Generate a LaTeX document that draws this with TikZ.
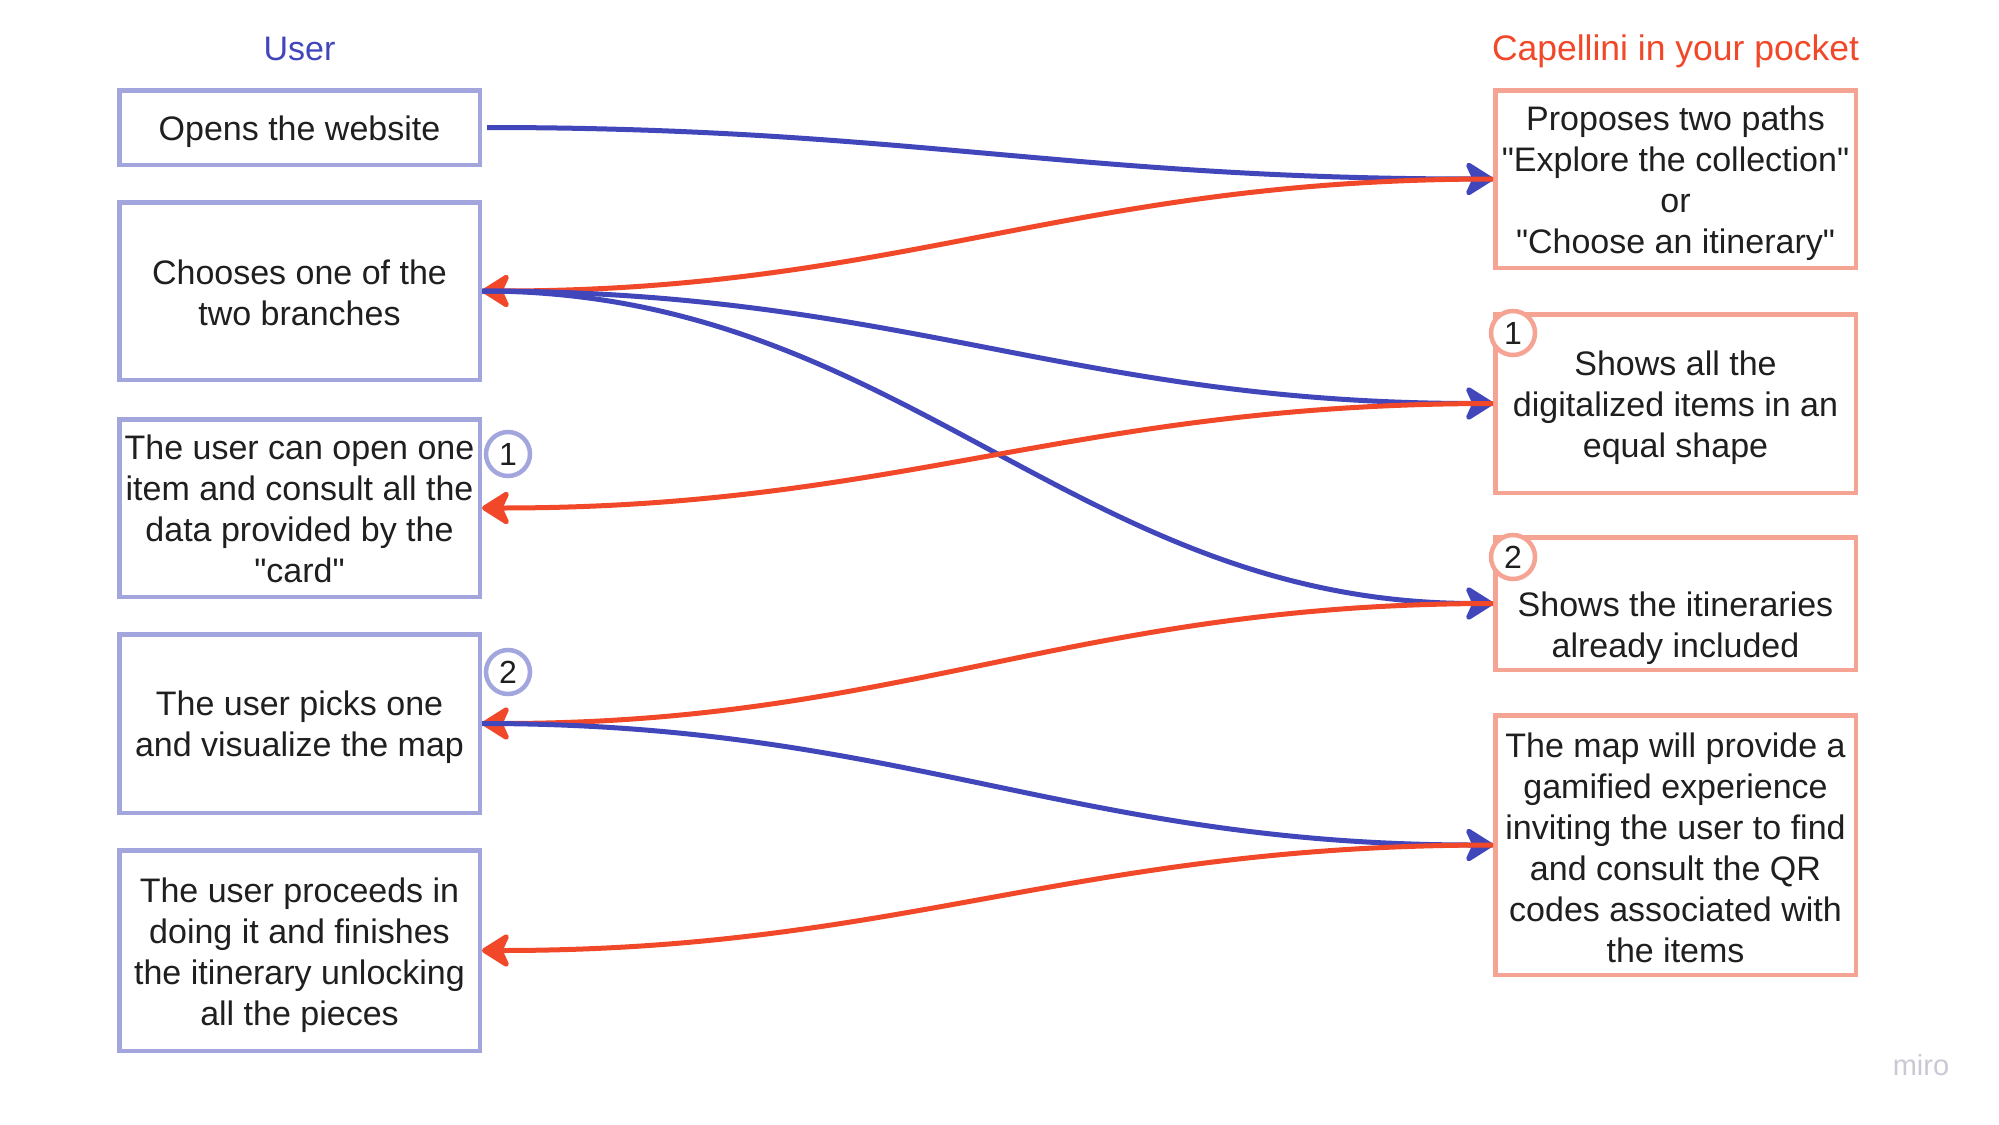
\documentclass[tikz,border=0pt]{standalone}
\usepackage{fontspec}
\setmainfont{Liberation Sans}
\usetikzlibrary{arrows.meta}
\definecolor{lb}{HTML}{A3A6DC}
\definecolor{rb}{HTML}{F5A393}
\definecolor{bl}{HTML}{4146BB}
\definecolor{rd}{HTML}{F2482A}
\definecolor{txt}{HTML}{1F1F1F}
\definecolor{logo}{HTML}{C9C9D6}
\newcommand{\bodyfnt}{\fontsize{34pt}{41pt}\selectfont}
\newcommand{\q}{\textquotedbl}
\newcommand{\bt}[2][-4pt]{\raisebox{#1}[\height][\depth]{\makebox[356pt]{\parbox{420pt}{\bodyfnt\centering #2}}}}
\begin{document}
\begin{tikzpicture}[x=1pt,y=-1pt,
  box/.style={line width=4.5pt, minimum width=360.5pt, inner sep=0pt, font=\bodyfnt, text=txt},
  ubox/.style={box, draw=lb},
  cbox/.style={box, draw=rb},
  circ/.style={circle, line width=4.5pt, fill=white, minimum size=44pt, inner sep=0pt, font=\fontsize{32pt}{36pt}\selectfont, text=txt},
  ucirc/.style={circ, draw=lb},
  ccirc/.style={circ, draw=rb},
  conn/.style={line width=5pt, -{Stealth[length=32pt, width=40pt, inset=9pt, round]}},
  blueconn/.style={conn, draw=bl},
  redconn/.style={conn, draw=rd},
  title/.style={inner sep=0pt, anchor=base, font=\fontsize{34pt}{40pt}\selectfont}
]
\useasboundingbox (0,0) rectangle (1999,1124);
\fill[white] (0,0) rectangle (1999,1124);

\node[title, text=bl] (tu) at (299.5,61) {User};
\node[title, text=rd, font=\fontsize{35.5pt}{40pt}\selectfont] (tc) at (1675.5,61) {Capellini in your pocket};

\node[ubox, minimum height=74.5pt] (l1) at (299.5,127.5) {\bt{Opens the website}};
\node[ubox, minimum height=177.5pt] (l2) at (299.5,291) {\bt[-1.5pt]{Chooses one of the\\two branches}};
\node[ubox, minimum height=177.5pt] (l3) at (299.5,508) {\bt[-0.5pt]{The user can open one\\item and consult all the\\data provided by the\\\q card\q}};
\node[ubox, minimum height=178.5pt] (l4) at (299.5,723.5) {\bt{The user picks one\\and visualize the map}};
\node[ubox, minimum height=200.5pt] (l5) at (299.5,950.5) {\bt[-5pt]{The user proceeds in\\doing it and finishes\\the itinerary unlocking\\all the pieces}};

\node[cbox, minimum height=177.5pt] (r1) at (1675.5,179) {\bt{Proposes two paths\\\q Explore the collection\q\\or\\\q Choose an itinerary\q}};
\node[cbox, minimum height=178.5pt] (r2) at (1675.5,403.5) {\bt{Shows all the\\digitalized items in an\\equal shape}};
\node[cbox, minimum height=132.5pt] (r3) at (1675.5,603.5) {\bt[-25pt]{Shows the itineraries\\already included}};
\node[cbox, minimum height=259.5pt] (r4) at (1675.5,845) {\bt[-3pt]{The map will provide a\\gamified experience\\inviting the user to find\\and consult the QR\\codes associated with\\the items}};

\node[ucirc] (cl1) at (508,454) {1};
\node[ucirc] (cl2) at (508,672) {2};
\node[ccirc] (cr1) at (1513,333) {1};
\node[ccirc] (cr2) at (1513,557) {2};

\draw[blueconn, shorten <=5pt] (l1.east) .. controls +(420,0) and +(-420,0) .. (r1.west);
\draw[redconn] (r1.west) .. controls +(-420,0) and +(420,0) .. (l2.east);
\draw[blueconn] (l2.east) .. controls +(420,0) and +(-420,0) .. (r2.west);
\draw[blueconn] (l2.east) .. controls +(420,0) and +(-420,0) .. (r3.west);
\draw[redconn] (r2.west) .. controls +(-420,0) and +(420,0) .. (l3.east);
\draw[redconn] (r3.west) .. controls +(-420,0) and +(420,0) .. (l4.east);
\draw[blueconn] (l4.east) .. controls +(420,0) and +(-420,0) .. (r4.west);
\draw[redconn] (r4.west) .. controls +(-420,0) and +(420,0) .. (l5.east);

\node[inner sep=0pt, anchor=base, text=logo, font=\fontsize{29pt}{32pt}\selectfont] (logo) at (1921,1075) {miro};
\end{tikzpicture}
\end{document}
